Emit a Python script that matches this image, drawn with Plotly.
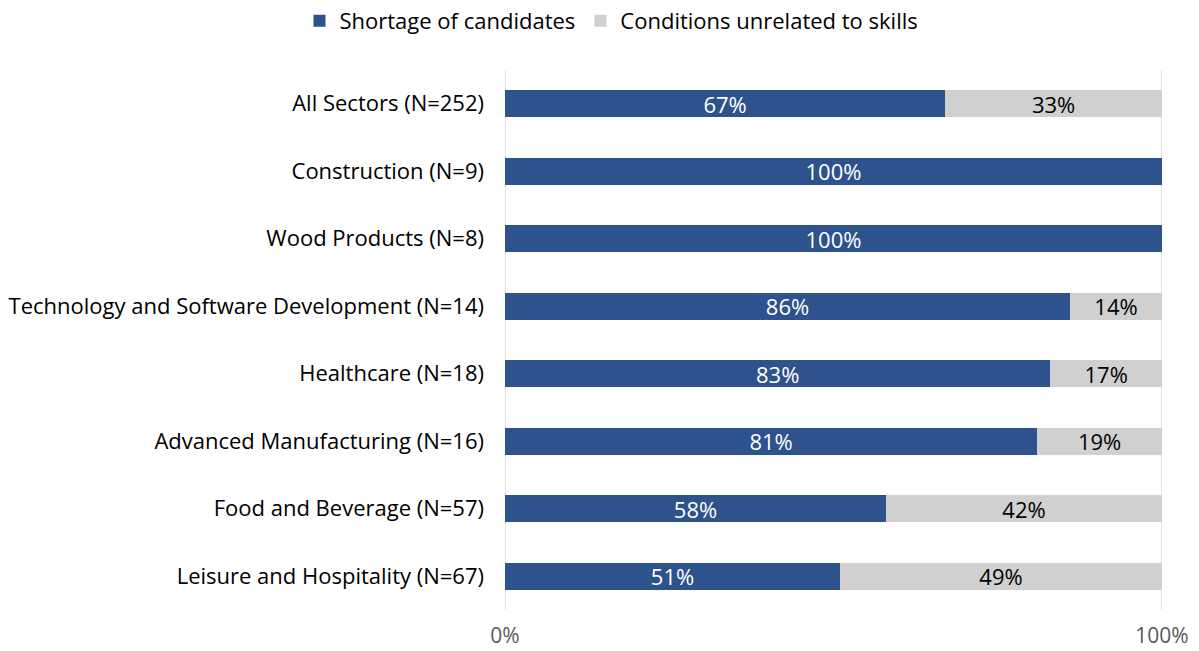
import plotly.graph_objects as go

sectors = [
    "All Sectors (N=252)",
    "Construction (N=9)",
    "Wood Products (N=8)",
    "Technology and Software Development (N=14)",
    "Healthcare (N=18)",
    "Advanced Manufacturing (N=16)",
    "Food and Beverage (N=57)",
    "Leisure and Hospitality (N=67)",
]
shortage = [67, 100, 100, 86, 83, 81, 58, 51]
unrelated = [33, 0, 0, 14, 17, 19, 42, 49]

x_ticks = [0, 100]
x_tick_text = ["0%", "100%"]

FONT = "Open Sans"
SIZE = 22
BLUE = "#2D528C"
GREY = "#D0D0D0"
GRID = "#D9D9D9"


def labels(vals):
    return [f"{v}%" if v > 0 else "" for v in vals]


fig = go.Figure()
fig.add_trace(go.Bar(
    name="Shortage of candidates",
    y=sectors, x=shortage, orientation="h",
    marker=dict(color=BLUE, line=dict(width=0)),
    text=labels(shortage), textposition="inside", insidetextanchor="middle",
    textfont=dict(color="white", size=SIZE, family=FONT),
    constraintext="none",
    hoverinfo="skip",
))
fig.add_trace(go.Bar(
    name="Conditions unrelated to skills",
    y=sectors, x=unrelated, orientation="h",
    marker=dict(color=GREY, line=dict(width=0)),
    text=labels(unrelated), textposition="inside", insidetextanchor="middle",
    textfont=dict(color="black", size=SIZE, family=FONT),
    constraintext="none",
    hoverinfo="skip",
))

# vertical grid lines at each x tick (edge grid lines are not drawn by the axis)
for t in x_ticks:
    fig.add_shape(
        type="line", xref="x", yref="paper", x0=t, x1=t, y0=0, y1=1,
        line=dict(color=GRID, width=1.5), layer="below",
    )

fig.update_layout(
    barmode="stack",
    bargap=0.6,
    width=1199, height=651,
    margin=dict(l=505, r=37, t=70, b=41, autoexpand=False),
    paper_bgcolor="white", plot_bgcolor="white",
    font=dict(family=FONT, size=SIZE, color="black"),
    uniformtext=dict(mode="show", minsize=SIZE),
    legend=dict(
        orientation="h", x=0.51, xanchor="center", xref="container",
        y=1, yanchor="top", yref="container",
        font=dict(size=SIZE, color="black"),
        itemwidth=30, traceorder="normal",
    ),
    showlegend=True,
)
fig.update_xaxes(
    range=[0, 100], tickvals=x_ticks, ticktext=x_tick_text,
    showgrid=False, zeroline=False, showline=False, automargin=False,
    tickfont=dict(size=21, color="#595959"),
    ticklabelstandoff=11,
)
fig.update_yaxes(
    autorange="reversed", showgrid=False, zeroline=False, showline=False,
    automargin=False,
    tickfont=dict(size=SIZE, color="black"),
    ticklabelstandoff=20,
)

fig.write_html("out.html")
